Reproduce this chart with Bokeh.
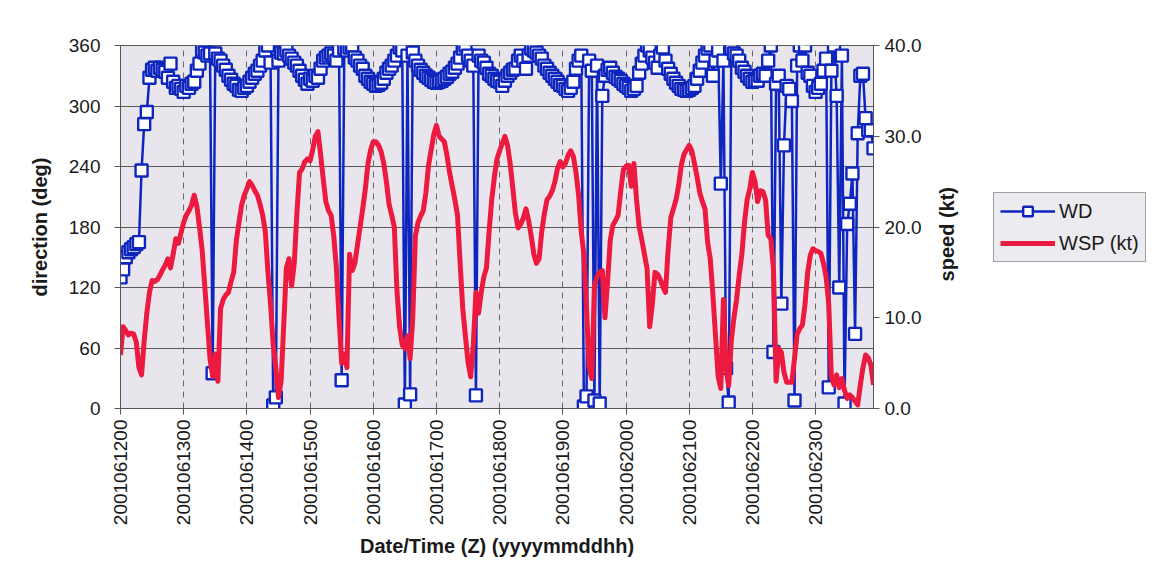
import math
from bokeh.plotting import figure
from bokeh.layouts import row
from bokeh.models import (Range1d, LinearAxis, FixedTicker, NumeralTickFormatter,
                          Legend, LegendItem, ColumnDataSource)
from bokeh.embed import file_html
from bokeh.resources import INLINE

# hourly index from 2001061200 (0) to 2001062322 (286)
tick_hours = [0, 24, 48, 72, 96, 120, 144, 168, 192, 216, 240, 264]
tick_labels = ["2001061200", "2001061300", "2001061400", "2001061500",
               "2001061600", "2001061700", "2001061800", "2001061900",
               "2001062000", "2001062100", "2001062200", "2001062300"]

wd = [
    130, 138, 150, 155, 158, 160, 163, 165, 236, 282,
    294, 328, 336, 338, 335, 338, 336, 334, 328, 342,
    324, 318, 320, 317, 314, 320, 318, 322, 324, 335,
    342, 355, 353, 350, 352, 35, 352, 347, 345, 340,
    336, 330, 326, 322, 320, 316, 315, 318, 320, 324,
    328, 332, 335, 340, 345, 355, 360, 343, 3, 11,
    345, 353, 352, 355, 350, 347, 343, 340, 335, 330,
    326, 322, 327, 325, 330, 328, 337, 345, 348, 350,
    352, 350, 345, 355, 28, 357, 355, 358, 360, 348,
    345, 340, 337, 330, 327, 324, 322, 320, 321, 323,
    327, 333, 337, 340, 345, 350, 358, 355, 4, 350,
    14, 353, 345, 340, 336, 333, 330, 328, 326, 324,
    323, 324, 325, 327, 329, 332, 334, 338, 342, 348,
    357, 360, 350, 345, 340, 13, 350, 345, 343, 338,
    332, 330, 327, 325, 324, 320, 325, 330, 333, 336,
    337, 345, 350, 345, 337, 350, 357, 355, 353, 350,
    347, 340, 337, 333, 330, 327, 324, 321, 320, 317,
    315, 318, 324, 337, 345, 350, 2, 12, 345, 335,
    8, 340, 5, 310, 330, 336, 338, 333, 329, 327,
    325, 322, 320, 318, 315, 317, 320, 333, 342, 350,
    360, 355, 348, 343, 338, 350, 358, 345, 337, 332,
    327, 323, 320, 317, 316, 315, 316, 318, 320, 327,
    335, 343, 350, 357, 360, 330, 345, 355, 223, 345,
    40, 6, 357, 352, 350, 345, 338, 334, 330, 327,
    324, 325, 325, 330, 332, 330, 345, 360, 56, 322,
    330, 104, 261, 320, 317, 305, 8, 340, 360, 345,
    360, 333, 330, 320, 314, 318, 322, 335, 347, 21,
    335, 360, 310, 120, 350, 5, 183, 203, 233, 74,
    273, 330, 332, 288, 276, 276, 258,
]

wsp = [
    5.9, 9.0, 8.6, 8.1, 8.3, 8.2, 7.3, 4.5, 3.7, 7.5,
    10.5, 12.8, 14.1, 14.0, 14.2, 14.7, 15.3, 15.8, 16.5, 15.5,
    17.0, 18.7, 18.2, 19.4, 20.5, 21.3, 21.8, 22.4, 23.5, 22.3,
    20.0, 17.5, 13.5, 9.5, 5.5, 3.5, 6.0, 3.0, 11.0, 12.0,
    12.5, 12.8, 14.0, 15.0, 18.5, 20.5, 22.4, 23.5, 24.2, 25.0,
    24.6, 24.0, 23.5, 22.5, 21.3, 19.5, 15.0, 11.5, 7.0, 4.5,
    1.2, 3.0, 9.2, 15.5, 16.5, 13.5, 16.0, 21.5, 26.0, 26.4,
    27.2, 27.5, 27.3, 28.5, 30.0, 30.5, 28.0, 25.3, 22.8, 21.8,
    21.3, 19.0, 15.5, 10.0, 5.0, 6.0, 4.5, 17.0, 15.2, 16.0,
    18.0, 20.0, 22.0, 24.2, 27.0, 28.5, 29.4, 29.4, 29.0, 28.3,
    27.0, 25.0, 22.5, 21.3, 20.0, 13.0, 9.0, 7.0, 6.6, 8.0,
    5.5, 10.0, 19.0, 20.5, 21.2, 21.8, 23.8, 26.8, 28.5, 30.2,
    31.2, 30.0, 29.7, 29.4, 27.9, 26.0, 24.5, 23.0, 21.3, 16.0,
    11.0, 8.0, 5.1, 3.5, 7.0, 12.8, 10.5, 12.8, 14.5, 15.5,
    19.5, 23.0, 25.5, 27.5, 28.4, 29.2, 30.0, 29.0, 27.0, 24.3,
    21.5, 19.9, 20.3, 21.0, 22.0, 20.7, 19.0, 17.0, 16.0, 16.5,
    19.5, 21.5, 23.0, 23.4, 24.0, 25.0, 26.5, 27.2, 26.6, 27.0,
    27.9, 28.4, 27.8, 26.0, 23.5, 19.5, 17.0, 11.0, 4.5, 3.3,
    13.5, 14.5, 15.0, 15.2, 10.0, 14.0, 18.5, 20.2, 20.7, 21.3,
    24.0, 26.3, 26.7, 26.8, 24.5, 27.0, 23.0, 20.0, 18.6, 17.0,
    15.4, 9.0, 11.5, 15.0, 14.8, 14.2, 13.4, 12.8, 17.5, 21.0,
    22.0, 23.0, 24.6, 26.8, 28.0, 28.5, 29.0, 28.4, 27.0, 25.5,
    23.8, 22.8, 22.0, 18.3, 16.5, 12.5, 8.0, 3.5, 2.2, 12.0,
    4.4, 2.5, 7.5, 10.0, 12.0, 14.7, 17.0, 20.5, 23.0, 24.2,
    26.0, 25.0, 22.8, 24.0, 23.9, 23.0, 19.1, 18.7, 15.4, 3.0,
    6.6, 6.2, 4.0, 2.9, 2.9, 2.9, 5.5, 8.2, 8.8, 9.2,
    11.5, 15.0, 16.9, 17.6, 17.4, 17.3, 17.1, 16.0, 14.5, 11.5,
    3.5, 2.6, 3.7, 2.3, 3.3, 2.0, 1.1, 1.5, 1.2, 0.8,
    0.4, 2.6, 4.5, 5.9, 5.6, 4.8, 2.6,
]

hours = list(range(len(wd)))
src = ColumnDataSource(dict(h=hours, wd=wd, wsp=wsp))

FONT = "Liberation Sans"
BLUE = "#0E26BE"
RED = "#EC1A3E"
AXC = "#555555"
TXT = "#1a1a1a"
H = 570

p = figure(width=980, height=H,
           min_border_left=120, min_border_top=45,
           min_border_right=107, min_border_bottom=H - 45 - 363,
           x_range=Range1d(0, len(wd) - 1), y_range=Range1d(0, 360),
           output_backend="svg", toolbar_location=None,
           background_fill_color="#E8E6EC", border_fill_color="white")
p.outline_line_color = AXC
p.extra_y_ranges = {"speed": Range1d(0, 40)}

# axes
p.xaxis.ticker = FixedTicker(ticks=tick_hours)
p.xaxis.major_label_overrides = {h: l for h, l in zip(tick_hours, tick_labels)}
p.xaxis.major_label_orientation = math.pi / 2
p.xaxis.axis_label = "Date/Time (Z) (yyyymmddhh)"
p.xaxis.major_label_standoff = 5
p.xaxis.axis_label_standoff = 7
p.yaxis.ticker = FixedTicker(ticks=[0, 60, 120, 180, 240, 300, 360])
p.yaxis.axis_label = "direction (deg)"
p.yaxis.major_label_standoff = 14
p.yaxis.axis_label_standoff = 15

ax2 = LinearAxis(y_range_name="speed", ticker=FixedTicker(ticks=[0, 10, 20, 30, 40]),
                 formatter=NumeralTickFormatter(format="0.0"))
p.add_layout(ax2, "right")

for ax in p.xaxis + p.yaxis + [ax2]:
    ax.axis_line_color = AXC
    ax.major_tick_line_color = AXC
    ax.major_tick_out = 6
    ax.major_tick_in = 0
    ax.minor_tick_line_color = None
    ax.major_label_text_font = FONT
    ax.major_label_text_font_size = "19px"
    ax.major_label_text_color = TXT
    ax.axis_label_text_font = FONT
    ax.axis_label_text_font_size = "20px"
    ax.axis_label_text_font_style = "bold"
    ax.axis_label_text_color = TXT
ax2.major_label_standoff = 5

# right-hand title "speed (kt)", reading bottom-to-top, drawn as the single
# rotated label of an otherwise invisible axis
title_axis = LinearAxis(y_range_name="speed", ticker=FixedTicker(ticks=[14]),
                        major_label_overrides={14: "speed (kt)"},
                        major_label_orientation=math.pi / 2,
                        axis_line_color=None, major_tick_line_color=None,
                        minor_tick_line_color=None, major_tick_out=0, major_tick_in=0,
                        minor_tick_out=0, major_label_standoff=23,
                        major_label_text_font=FONT, major_label_text_font_size="20px",
                        major_label_text_font_style="bold", major_label_text_color=TXT)
p.add_layout(title_axis, "right")

p.ygrid.grid_line_color = "#5a5a5a"
p.ygrid.grid_line_width = 1
p.xgrid.grid_line_color = "#6a6a6a"
p.xgrid.grid_line_dash = "6 5"
p.xgrid.grid_line_width = 1

# series
p.line("h", "wd", source=src, line_color=BLUE, line_width=2.5)
p.scatter("h", "wd", source=src, marker="square", size=12,
          fill_color="white", line_color=BLUE, line_width=2.4)
p.line("h", "wsp", source=src, y_range_name="speed",
       line_color=RED, line_width=5, line_join="round")

# legend panel to the right of the chart; its swatch renderers reuse the
# series styles and sit outside their own (hidden) ranges
q = figure(width=166, height=H, x_range=Range1d(0, 1), y_range=Range1d(0, 1),
           x_axis_type=None, y_axis_type=None, min_border=0,
           output_backend="svg", toolbar_location=None,
           background_fill_color="white", border_fill_color="white")
q.outline_line_color = None
q.grid.grid_line_color = None
swatch = ColumnDataSource(dict(h=[-5, -6], wd=[-5, -6], wsp=[-5, -6]))
k_wd_l = q.line("h", "wd", source=swatch, line_color=BLUE, line_width=2.5)
k_wd_s = q.scatter("h", "wd", source=swatch, marker="square", size=12,
                   fill_color="white", line_color=BLUE, line_width=2.4)
k_wsp = q.line("h", "wsp", source=swatch, line_color=RED, line_width=5)

# the row aligns this plot's frame with the chart's frame (y 45..408)
legend = Legend(items=[LegendItem(label="WD", renderers=[k_wd_l, k_wd_s]),
                       LegendItem(label="WSP (kt)", renderers=[k_wsp])],
                location=(13, 408 - 262))
legend.label_text_font = FONT
legend.label_text_font_size = "20px"
legend.label_text_color = TXT
legend.glyph_width = 55
legend.glyph_height = 24
legend.label_height = 24
legend.label_standoff = 4
legend.padding = 6
legend.spacing = 8
legend.margin = 0
legend.border_line_color = "#555555"
legend.background_fill_color = "#ECEBEF"
legend.background_fill_alpha = 1
q.add_layout(legend, "center")

layout = row(p, q)
open("out.html", "w").write(file_html(layout, INLINE))
